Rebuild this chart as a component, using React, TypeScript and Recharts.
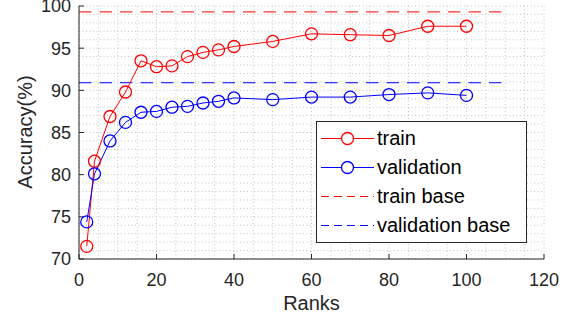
import React from 'react';
import {
  LineChart,
  Line,
  XAxis,
  YAxis,
  CartesianGrid,
  Legend
} from 'recharts';

// Ranks evaluated
const ranks = [2, 4, 8, 12, 16, 20, 24, 28, 32, 36, 40, 50, 60, 70, 80, 90, 100];

// Accuracy (%) per rank
const trainAcc = [71.5, 81.6, 86.9, 89.8, 93.5, 92.8, 92.9, 94.0, 94.5, 94.8, 95.2, 95.8, 96.7, 96.6, 96.5, 97.6, 97.6];
const validationAcc = [74.4, 80.1, 84.0, 86.2, 87.4, 87.5, 88.0, 88.1, 88.5, 88.7, 89.1, 88.9, 89.2, 89.2, 89.5, 89.7, 89.4];

// Baselines, drawn across the rank range
const baseRange = [0, 110];
const trainBase = 99.3;
const validationBase = 90.9;

// Axis ticks
const xTicks = [0, 20, 40, 60, 80, 100, 120];
const yTicks = [70, 75, 80, 85, 90, 95, 100];

// Minor grid (every 5 ranks, every 1%)
const xMinor = Array.from({ length: 25 }, (_, i) => i * 5);
const yMinor = Array.from({ length: 31 }, (_, i) => 70 + i);

const RED = '#ff0000';
const BLUE = '#0000ff';
const AXIS = '#262626';
const FONT = '"Liberation Sans", Arial, sans-serif';

const chartData = ranks.map((r, i) => ({
  rank: r,
  train: trainAcc[i],
  validation: validationAcc[i]
}));

const trainBaseData = baseRange.map(r => ({ rank: r, v: trainBase }));
const validationBaseData = baseRange.map(r => ({ rank: r, v: validationBase }));

const legendItems = [
  { name: 'train', color: RED, dashed: false },
  { name: 'validation', color: BLUE, dashed: false },
  { name: 'train base', color: RED, dashed: true },
  { name: 'validation base', color: BLUE, dashed: true }
];

const renderLegend = () => (
  <div
    style={{
      border: `1px solid ${AXIS}`,
      background: '#fff',
      width: 209,
      height: 118,
      paddingTop: 2,
      boxSizing: 'content-box',
      fontFamily: FONT
    }}
  >
    {legendItems.map(item => (
      <div key={item.name} style={{ display: 'flex', alignItems: 'center', height: 29 }}>
        <svg width={53} height={29} style={{ marginLeft: 4, display: 'block' }}>
          <line
            x1={0}
            x2={53}
            y1={14.5}
            y2={14.5}
            stroke={item.color}
            strokeWidth={1}
            strokeDasharray={item.dashed ? '8 5' : undefined}
          />
          {!item.dashed && (
            <circle cx={26.5} cy={14.5} r={6} fill="#fff" stroke={item.color} strokeWidth={1.3} />
          )}
        </svg>
        <span style={{ marginLeft: 3, fontSize: 20, color: '#000', lineHeight: '29px' }}>{item.name}</span>
      </div>
    ))}
  </div>
);

const tickStyle = { fill: AXIS, fontSize: 18, fontFamily: FONT };

export default function App() {
  return (
    <div style={{ position: 'absolute', left: 0, top: 0, width: 576, height: 320, background: '#fff' }}>
      <LineChart
        width={576}
        height={320}
        data={chartData}
        margin={{ top: 6, right: 32, bottom: 0, left: 0 }}
      >
        <CartesianGrid
          stroke="#c4c4c4"
          strokeDasharray="1 2.5"
          verticalValues={xMinor}
          horizontalValues={yMinor}
        />
        <XAxis
          dataKey="rank"
          type="number"
          domain={[0, 120]}
          ticks={xTicks}
          interval={0}
          height={61}
          stroke={AXIS}
          tickSize={-5}
          tickMargin={19}
          tick={tickStyle}
          allowDataOverflow
          label={{
            content: () => (
              <text x={311.5} y={310} textAnchor="middle" fill={AXIS} fontSize={20} fontFamily={FONT}>
                Ranks
              </text>
            )
          }}
        />
        <XAxis
          xAxisId="top"
          orientation="top"
          type="number"
          domain={[0, 120]}
          ticks={xTicks}
          interval={0}
          height={0}
          stroke={AXIS}
          tickSize={-5}
          tickFormatter={() => ''}
        />
        <YAxis
          type="number"
          domain={[70, 100]}
          ticks={yTicks}
          interval={0}
          width={79}
          stroke={AXIS}
          tickSize={-5}
          tickMargin={13}
          tick={tickStyle}
          allowDataOverflow
          label={{
            content: () => (
              <text
                x={32}
                y={132}
                transform="rotate(-90 32 132)"
                textAnchor="middle"
                fill={AXIS}
                fontSize={20}
                fontFamily={FONT}
              >
                Accuracy(%)
              </text>
            )
          }}
        />
        <YAxis
          yAxisId="right"
          orientation="right"
          type="number"
          domain={[70, 100]}
          ticks={yTicks}
          interval={0}
          width={0}
          stroke={AXIS}
          tickSize={-5}
          tickFormatter={() => ''}
        />
        <Line
          data={trainBaseData}
          dataKey="v"
          name="train base"
          stroke={RED}
          strokeWidth={1}
          strokeDasharray="12.5 8"
          dot={false}
          isAnimationActive={false}
        />
        <Line
          data={validationBaseData}
          dataKey="v"
          name="validation base"
          stroke={BLUE}
          strokeWidth={1}
          strokeDasharray="12.5 8"
          dot={false}
          isAnimationActive={false}
        />
        <Line
          dataKey="train"
          name="train"
          stroke={RED}
          strokeWidth={1}
          dot={{ r: 6, fill: 'none', stroke: RED, strokeWidth: 1.3 }}
          isAnimationActive={false}
        />
        <Line
          dataKey="validation"
          name="validation"
          stroke={BLUE}
          strokeWidth={1}
          dot={{ r: 6, fill: 'none', stroke: BLUE, strokeWidth: 1.3 }}
          isAnimationActive={false}
        />
        <Legend
          layout="horizontal"
          verticalAlign="middle"
          align="center"
          content={renderLegend}
          wrapperStyle={{ left: 316, top: 121, width: 211, height: 120 }}
        />
      </LineChart>
    </div>
  );
}
